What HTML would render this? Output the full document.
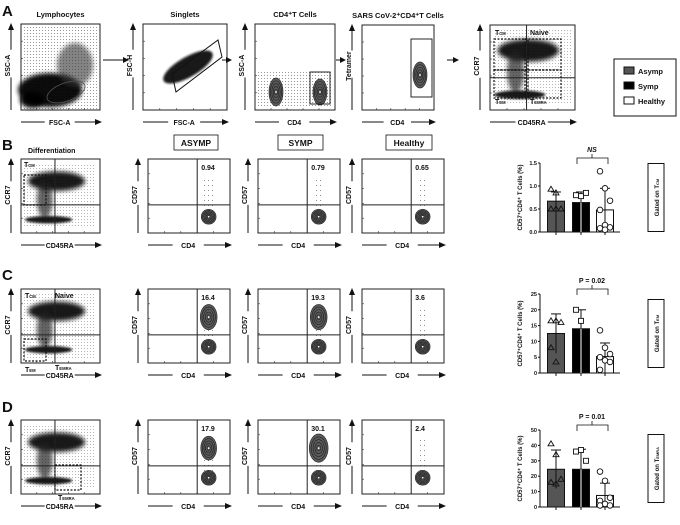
<!DOCTYPE html>
<html><head><meta charset="utf-8"><style>
html,body{margin:0;padding:0;background:#fff}
svg text{font-family:"Liberation Sans",Arial,sans-serif;font-weight:bold}
</style></head><body>
<svg id="fig" width="680" height="520" viewBox="0 0 680 520" xmlns="http://www.w3.org/2000/svg">
<defs>
<filter id="bl" x="-50%" y="-50%" width="200%" height="200%"><feGaussianBlur stdDeviation="2"/></filter>
<filter id="bl1" x="-50%" y="-50%" width="200%" height="200%"><feGaussianBlur stdDeviation="1"/></filter>
<pattern id="dots" width="3" height="3" patternUnits="userSpaceOnUse"><rect width="1" height="1" fill="#333"/></pattern>
<pattern id="dots2" width="4" height="5" patternUnits="userSpaceOnUse"><rect width="1" height="1" fill="#222"/></pattern>
</defs>
<g id="root"></g>
</svg>
<script>
// Bar chart data (B: T_CM, C: T_EM, D: T_EMRA)
const groups = ['Asymp','Symp','Healthy'];
const meansB = [0.67, 0.64, 0.48];
const errB = [0.87, 0.87, 0.95];
const ptsAsympB = [0.93, 0.85, 0.5, 0.5, 0.5];
const ptsSympB = [0.8, 0.78, 0.85];
const ptsHealthyB = [1.32, 0.95, 0.68, 0.48, 0.15, 0.1, 0.08, 0.05];
const ticksB = [0, 0.5, 1.0, 1.5];
const tickLabelsB = ['0.0','0.5','1.0','1.5'];
const meansC = [12.5, 14, 5.2];
const errC = [18.7, 20, 9.5];
const errLowC = [6.3, 0, 0];
const ptsAsympC = [16.5, 16.5, 16, 8, 3.5];
const ptsSympC = [20, 16.5];
const ptsHealthyC = [13.5, 8, 6, 5, 4, 3.5, 1];
const ticksC = [0, 5, 10, 15, 20, 25];
const meansD = [24.5, 24.5, 7.5];
const errD = [37, 37.5, 15.5];
const errLowD = [12, 0, 0];
const ptsAsympD = [41, 34, 18, 16, 15];
const ptsSympD = [36, 37, 30];
const ptsHealthyD = [23, 17, 6, 4, 2, 1, 1];
const ticksD = [0, 10, 20, 30, 40, 50];
const pctB = ['0.94','0.79','0.65'];
const pctC = ['16.4','19.3','3.6'];
const pctD = ['17.9','30.1','2.4'];

const NS='http://www.w3.org/2000/svg';
const root=document.getElementById('root');
function el(tag,attrs,parent,txt){const e=document.createElementNS(NS,tag);for(const k in attrs)e.setAttribute(k,attrs[k]);if(txt!==undefined)e.textContent=txt;(parent||root).appendChild(e);return e;}
function txt(x,y,s,size,anchor,parent,name,rot){const t=el('text',{x:x,y:y,'font-size':size,'text-anchor':anchor||'middle',fill:'#111'},parent,s);


if(rot)t.setAttribute('transform','rotate(-90 '+x+' '+y+')');return t;}
function sub(x,y,main,s,size,name){const t=el('text',{x:x,y:y,'font-size':size,'text-anchor':'start',fill:'#111'});


const a=el('tspan',{},t,main);const b=el('tspan',{'font-size':size*0.6},t,s);return t;}

function flowPlot(x,y,w,h,xl,yl,name,title){
  const g=el('g',{});
  
  
  el('rect',{x:x,y:y,width:w,height:h,fill:'#fff',stroke:'#222','stroke-width':1},g);
  for(let i=1;i<5;i++){el('line',{x1:x,x2:x+2,y1:y+h*i/5,y2:y+h*i/5,stroke:'#333','stroke-width':0.6},g);
    el('line',{x1:x+w*i/5,x2:x+w*i/5,y1:y+h,y2:y+h-2,stroke:'#333','stroke-width':0.6},g);}
  el('line',{x1:x-10,x2:x-10,y1:y+h,y2:y+h*0.62,stroke:'#111','stroke-width':1},g);
  el('line',{x1:x-10,x2:x-10,y1:y+h*0.3,y2:y+4,stroke:'#111','stroke-width':1},g);
  el('polygon',{points:(x-10)+','+(y-1)+' '+(x-13)+','+(y+6)+' '+(x-7)+','+(y+6),fill:'#111'},g);
  txt(x-11,y+h*0.46+2,yl,7,'middle',g,'y-axis-title',true);
  el('line',{x1:x,x2:x+w*0.3,y1:y+h+12,y2:y+h+12,stroke:'#111','stroke-width':1},g);
  el('line',{x1:x+w*0.68,x2:x+w-3,y1:y+h+12,y2:y+h+12,stroke:'#111','stroke-width':1},g);
  el('polygon',{points:(x+w+2)+','+(y+h+12)+' '+(x+w-5)+','+(y+h+9)+' '+(x+w-5)+','+(y+h+15),fill:'#111'},g);
  txt(x+w*0.49,y+h+15,xl,7,'middle',g,'x-axis-title');
  if(title)txt(x+w/2,y-7,title,7.5,'middle',g,'plot-title');
  return g;
}
function blob(g,cx,cy,rx,ry,fill,op,f,rot){const e=el('ellipse',{cx:cx,cy:cy,rx:rx,ry:ry,fill:fill,opacity:op,filter:'url(#'+(f||'bl')+')'},g);if(rot)e.setAttribute('transform','rotate('+rot+' '+cx+' '+cy+')');return e;}
function contour(g,cx,cy,rx,ry,n){for(let i=0;i<n;i++){const k=1-i/n;el('ellipse',{cx:cx,cy:cy,rx:rx*k,ry:ry*k,fill:i==0?'#555':'none',stroke:'#222','stroke-width':0.7,opacity:0.95},g);}el('circle',{cx:cx,cy:cy,r:0.9,fill:'#fff'},g);}
function arrow(x1,x2,y){el('line',{x1:x1,x2:x2-5,y1:y,y2:y,stroke:'#111','stroke-width':1});el('polygon',{points:x2+','+y+' '+(x2-6)+','+(y-3)+' '+(x2-6)+','+(y+3),fill:'#111'});}
function diffPlot(x,y,w,h,name,gate,labels){
  const g=flowPlot(x,y,w,h,'CD45RA','CCR7',name,null);
  const vx=x+w*0.43, hy=y+h*0.62;
  el('rect',{x:x+3,y:y+5,width:w-7,height:h-10,fill:'url(#dots)',opacity:0.35},g);
  blob(g,x+w*0.45,y+h*0.3,w*0.36,h*0.13,'#111',0.95);
  blob(g,x+w*0.3,y+h*0.55,w*0.1,h*0.25,'#222',0.7);
  blob(g,x+w*0.35,y+h*0.82,w*0.3,h*0.05,'#111',0.95,'bl1');
  el('line',{x1:vx,x2:vx,y1:y,y2:y+h,stroke:'#222','stroke-width':1},g);
  el('line',{x1:x,x2:x+w,y1:hy,y2:hy,stroke:'#222','stroke-width':1},g);
  if(gate)el('rect',{x:gate[0],y:gate[1],width:gate[2],height:gate[3],fill:'none',stroke:'#111','stroke-width':1.2,'stroke-dasharray':'2,1.5'},g);
  labels.forEach(l=>{if(l[3])sub(l[0],l[1],l[2],l[3],7,'gate-label');else txt(l[0],l[1],l[2],7,'start',g,'gate-label');});
  return g;
}
function cd57Plot(x,y,w,h,name,pct,hi){
  const g=flowPlot(x,y,w,h,'CD4','CD57',name,null);
  const vx=x+w*0.6, hy=y+h*0.62;
  el('line',{x1:vx,x2:vx,y1:y,y2:y+h,stroke:'#222','stroke-width':1},g);
  el('line',{x1:x,x2:x+w,y1:hy,y2:hy,stroke:'#222','stroke-width':1},g);
  txt(vx+4,y+11,pct,7,'start',g,'quadrant-percentage');
  el('rect',{x:vx+w*0.08,y:y+h*0.25,width:w*0.12,height:h*0.45,fill:'url(#dots2)',opacity:0.5},g);
  if(hi>0)contour(g,x+w*0.74,y+h*(0.38),w*0.06*hi+2,h*0.1*hi+3,5);
  contour(g,x+w*0.74,y+h*0.78,w*0.09,h*0.1,6);
}

[['A',2,16],['B',2,150],['C',2,280],['D',2,412]].forEach(p=>{txt(p[1],p[2],p[0],15,'start',root,'panel-letter-'+p[0].toLowerCase());});

let g=flowPlot(21,24,79,86,'FSC-A','SSC-A','lymphocytes-plot','Lymphocytes');
el('rect',{x:22,y:26,width:77,height:83,fill:'url(#dots)',opacity:0.5},g);
blob(g,50,90,32,17,'#000',0.95);blob(g,75,65,18,22,'#333',0.6);blob(g,32,100,12,8,'#000',0.95);
el('ellipse',{cx:66,cy:92,rx:20,ry:9,fill:'none',stroke:'#555','stroke-width':0.8,transform:'rotate(-20 66 92)'},g);
arrow(103,129,60);
g=flowPlot(143,24,84,86,'FSC-A','FSC-H','singlets-plot','Singlets');
blob(g,188,67,28,10,'#111',0.95,'bl1',-30);
el('polygon',{points:'172,74 218,40 222,57 176,92',fill:'none',stroke:'#111','stroke-width':1},g);
arrow(222,232,60);
g=flowPlot(255,24,80,86,'CD4','SSC-A','cd4-t-cells-plot','CD4\u207aT Cells');
el('rect',{x:257,y:72,width:76,height:34,fill:'url(#dots)',opacity:0.5},g);
contour(g,276,92,7,14,5);contour(g,320,92,7,13,5);
el('rect',{x:310,y:72,width:20,height:32,fill:'none',stroke:'#111','stroke-width':0.9},g);
arrow(336,346,60);
g=flowPlot(362,25,72,85,'CD4','Tetramer','sars-cov-2-tetramer-plot','SARS CoV-2\u207aCD4\u207aT Cells');
el('rect',{x:411,y:39,width:21,height:58,fill:'none',stroke:'#111','stroke-width':0.9},g);
contour(g,420,75,7,13,5);
arrow(447,459,60);
diffPlot(490,25,85,85,'differentiation-plot-a',null,[[495,35,'T','CM'],[530,35,'Naive'],[495,104,'T','EM'],[530,104,'T','EMRA']]);
el('rect',{x:494,y:39,width:34,height:31,fill:'none',stroke:'#111','stroke-width':1.2,'stroke-dasharray':'2,1.5'});
el('rect',{x:525,y:39,width:36,height:31,fill:'none',stroke:'#111','stroke-width':1.2,'stroke-dasharray':'2,1.5'});
el('rect',{x:494,y:70,width:34,height:28,fill:'none',stroke:'#111','stroke-width':1.2,'stroke-dasharray':'2,1.5'});
el('rect',{x:525,y:70,width:36,height:28,fill:'none',stroke:'#111','stroke-width':1.2,'stroke-dasharray':'2,1.5'});
const lg=el('g',{});


el('rect',{x:614,y:59,width:62,height:57,fill:'#fff',stroke:'#111','stroke-width':1},lg);
[['#555','Asymp'],['#000','Symp'],['#fff','Healthy']].forEach((l,i)=>{const yy=72+i*15;
 const r=el('rect',{x:624,y:yy-5,width:10,height:7,fill:l[0],stroke:'#111','stroke-width':1},lg);
 
 
 const t=el('text',{x:638,y:yy+2,'font-size':7.5,fill:'#111','font-weight':'normal'},lg,l[1]);
 
 });

const heads=[['ASYMP',174,44],['SYMP',278,45],['Healthy',386,46]];
heads.forEach(hd=>{const r=el('rect',{x:hd[1],y:135,width:hd[2],height:15,fill:'#fff',stroke:'#111','stroke-width':0.8});
 
 
 txt(hd[1]+hd[2]/2,146,hd[0],8.5,'middle',root,'group-header-text');});
txt(28,153,'Differentiation',7,'start',root,'differentiation-title');
const rows=[[159,pctB,[0,0,0],[24,175,22,30],[[24,167,'T','CM']]],[289,pctC,[1.3,1.3,0],[24,339,22,22],[[25,298,'T','CM'],[55,298,'Naive'],[25,372,'T','EM'],[55,370,'T','EMRA']]],[420,pctD,[1.2,1.5,0],[55,465,26,25],[[58,500,'T','EMRA']]]];
const plotX=[148,258,362];
rows.forEach((r,ri)=>{diffPlot(21,r[0],79,74,'differentiation-plot-'+'bcd'[ri],r[3],r[4]);
 plotX.forEach((px,i)=>cd57Plot(px,r[0],82,74,'cd57-plot-'+'bcd'[ri]+'-'+groups[i].toLowerCase(),r[1][i],r[2][i]));});

function barChart(top,bot,ymax,ticks,tl,means,errs,lows,pts,ptxt,gate,name){
  const gg=el('g',{});
  
  
  const ax=540, ex=620;
  const Y=v=>bot-(v/ymax)*(bot-top);
  el('line',{x1:ax,x2:ax,y1:top,y2:bot,stroke:'#111','stroke-width':1},gg);
  el('line',{x1:ax,x2:ex,y1:bot,y2:bot,stroke:'#111','stroke-width':1},gg);
  ticks.forEach((t,i)=>{el('line',{x1:ax-2,x2:ax,y1:Y(t),y2:Y(t),stroke:'#111'},gg);
    txt(ax-3,Y(t)+2,tl[i],5.5,'end',gg,'y-tick-label');});
  txt(522,(top+bot)/2,'CD57\u207aCD4\u207a T Cells (%)',6,'middle',gg,'y-axis-title',true);
  const cx=[556,581,605], fills=['#555','#000','#fff'];
  means.forEach((m,i)=>{const b=el('rect',{x:cx[i]-8.5,y:Y(m),width:17,height:bot-Y(m),fill:fills[i],stroke:'#111','stroke-width':1},gg);
    
    
    el('line',{x1:cx[i],x2:cx[i],y1:Y(errs[i]),y2:Y(lows[i]),stroke:i==1?'#fff':'#111','stroke-width':1},gg);
    el('line',{x1:cx[i],x2:cx[i],y1:Y(errs[i]),y2:Y(m),stroke:'#111','stroke-width':1},gg);
    el('line',{x1:cx[i]-5,x2:cx[i]+5,y1:Y(errs[i]),y2:Y(errs[i]),stroke:'#111','stroke-width':1},gg);
    el('line',{x1:cx[i],x2:cx[i],y1:bot,y2:bot+3,stroke:'#111'},gg);
    pts[i].forEach((v,j)=>{const ox=((j%3)-1)*5; const yy=Y(v);let p;
      if(i==0)p=el('polygon',{points:(cx[i]+ox)+','+(yy-3)+' '+(cx[i]+ox-3)+','+(yy+2)+' '+(cx[i]+ox+3)+','+(yy+2),fill:'none',stroke:'#111','stroke-width':0.9},gg);
      else if(i==1)p=el('rect',{x:cx[i]+ox-2.5,y:yy-2.5,width:5,height:5,fill:'#fff',stroke:'#111','stroke-width':0.9},gg);
      else p=el('circle',{cx:cx[i]+ox,cy:yy,r:2.8,fill:'#fff',stroke:'#111','stroke-width':0.9},gg);
      
      });});
  const by=top-5;
  el('path',{d:'M577 '+(by+6)+' L577 '+by+' L608 '+by+' L608 '+(by+6)+' M592 '+by+' L592 '+(by-4),fill:'none',stroke:'#111','stroke-width':0.8},gg);
  const pt=el('text',{x:592,y:by-6,'font-size':7,'text-anchor':'middle',fill:'#111','font-weight':'normal','font-style':ptxt=='NS'?'italic':'normal'},gg,ptxt);
  
  
  const gb=el('rect',{x:648,y:(top+bot)/2-34,width:16,height:68,fill:'#fff',stroke:'#111','stroke-width':1},gg);
  
  
  const gt=el('text',{x:659,y:(top+bot)/2,'font-size':6,'text-anchor':'middle',fill:'#111',transform:'rotate(-90 659 '+(top+bot)/2+')'},gg);
  
  
  el('tspan',{},gt,'Gated on T');el('tspan',{'font-size':4},gt,gate);
}
barChart(163,232,1.5,ticksB,tickLabelsB,meansB,errB,[0,0,0],[ptsAsympB,ptsSympB,ptsHealthyB],'NS','CM','bar-chart-tcm');
barChart(294,373,25,ticksC,ticksC.map(String),meansC,errC,errLowC,[ptsAsympC,ptsSympC,ptsHealthyC],'P = 0.02','EM','bar-chart-tem');
barChart(430,507,50,ticksD,ticksD.map(String),meansD,errD,errLowD,[ptsAsympD,ptsSympD,ptsHealthyD],'P = 0.01','EMRA','bar-chart-temra');
</script>
</body></html>
